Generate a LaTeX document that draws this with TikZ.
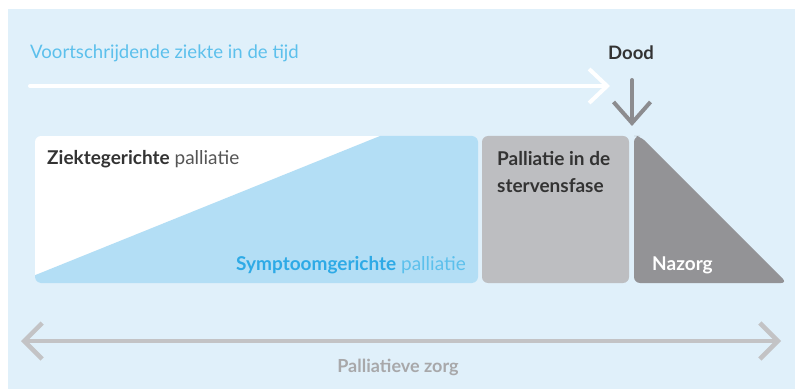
\documentclass[tikz,border=0pt]{standalone}
\usepackage{fontspec}
\setmainfont{Lato}
\usetikzlibrary{arrows.meta}
\definecolor{bgblue}{HTML}{E0F0FA}
\definecolor{triblue}{HTML}{B3DEF5}
\definecolor{txtblue}{HTML}{5CC0EC}
\definecolor{symblue}{HTML}{2EAAE6}
\definecolor{stgray}{HTML}{BDBEC1}
\definecolor{nzgray}{HTML}{939396}
\definecolor{dgray}{HTML}{8C8C8F}
\definecolor{lgray}{HTML}{C3C3C5}
\definecolor{ptxt}{HTML}{A8A8AA}
\definecolor{dark}{HTML}{333333}
\definecolor{mid}{HTML}{555555}
\begin{document}
\begin{tikzpicture}[x=1pt,y=-1pt,
  lbl/.style={inner sep=0pt,font=\fontsize{19}{22}\selectfont},
  chev/.style={line width=#1,line cap=round,line join=round},
]
\useasboundingbox (0,0) rectangle (795,390);
\fill[white] (0,0) rectangle (795,390);
\fill[bgblue] (8,9) rectangle (795,389);
% top arrow
\node[lbl,anchor=west,text=txtblue,font=\fontsize{18.6}{22}\selectfont] (top) at (30,53) {Voortschrijdende ziekte in de tijd};
\coordinate (ta) at (30,86);
\coordinate (tb) at (610,86);
\draw[chev=4pt,white,-{Straight Barb[length=18pt,width=34pt,line width=4pt]}] (ta) -- (tb);
\node[lbl,text=dark,font=\fontsize{18.5}{22}\selectfont\bfseries] (dood) at (631,53) {Dood};
\coordinate (da) at (632,80);
\coordinate (db) at (632,126);
\draw[chev=4pt,dgray,-{Straight Barb[length=21pt,width=37pt,line width=4pt]}] (da) -- (db);
% rect 1
\begin{scope}
\clip[rounded corners=6pt] (35,136) rectangle (478,283);
\fill[white] (35,136) rectangle (478,283);
\fill[triblue] (380,136) -- (480,136) -- (480,285) -- (33,285) -- (33,276) -- cycle;
\end{scope}
\node[lbl,anchor=west] (zg) at (47,159) {\textcolor{dark}{\bfseries Ziektegerichte} \textcolor{mid}{palliatie}};
\node[lbl,anchor=east] (sg) at (466,265) {\textcolor{symblue}{\bfseries Symptoomgerichte} \textcolor{txtblue}{palliatie}};
% rect 2
\fill[stgray,rounded corners=6pt] (482,136) rectangle (629,283);
\node[lbl,anchor=north west,align=left,text=dark,font=\fontsize{19}{27}\selectfont\bfseries] (st) at (497,151) {Palliatie in de\\stervensfase};
% nazorg
\fill[nzgray,rounded corners=6pt] (634,283) -- (634,136) -- (640,136) -- (787,283) -- cycle;
\node[lbl,anchor=west,text=white,font=\fontsize{19}{22}\selectfont\bfseries] (nz) at (652,265) {Nazorg};
% bottom arrow
\coordinate (ba) at (21,341);
\coordinate (bb) at (781,341);
\draw[chev=4.5pt,lgray,{Straight Barb[length=18pt,width=36pt,line width=4.5pt]}-{Straight Barb[length=18pt,width=36pt,line width=4.5pt]}] (ba) -- (bb);
\node[lbl,text=ptxt,font=\fontsize{18}{22}\selectfont\bfseries] (pz) at (398,367) {Palliatieve zorg};
\end{tikzpicture}
\end{document}
